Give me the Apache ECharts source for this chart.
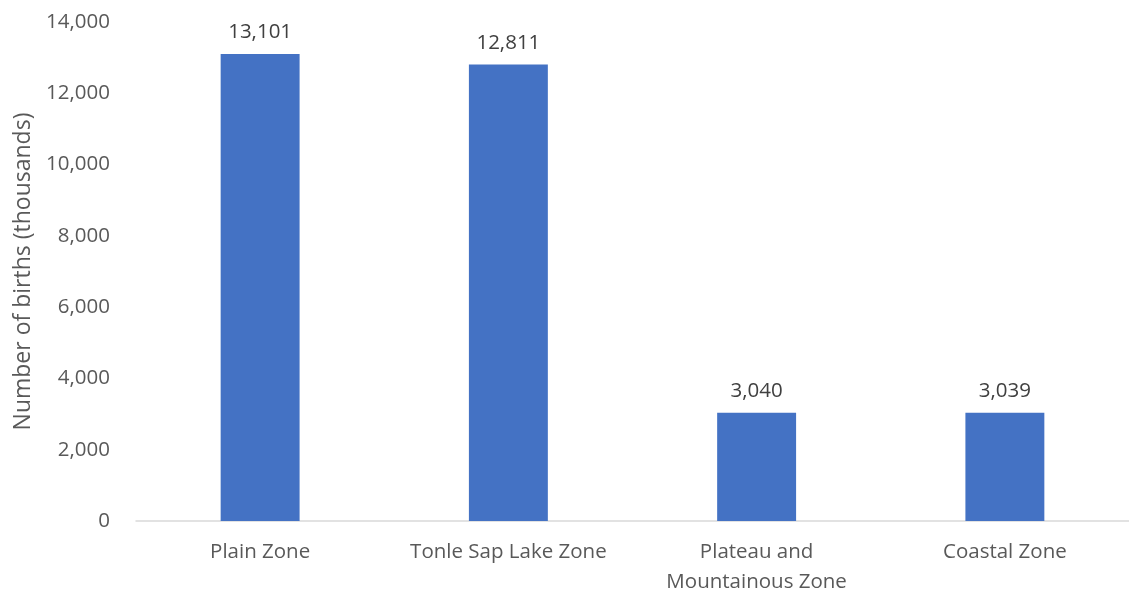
<!DOCTYPE html>
<html>
<head>
<meta charset="utf-8">
<script src="https://cdn.jsdelivr.net/npm/echarts@6/dist/echarts.min.js"></script>
<style>
  html, body { margin: 0; padding: 0; background: #fff; }
  #chart { width: 1129px; height: 592px; }
</style>
</head>
<body>
<div id="chart"></div>
<script>
const zones = ["Plain Zone", "Tonle Sap Lake Zone", "Plateau and\nMountainous Zone", "Coastal Zone"];
const births = [13101, 12811, 3040, 3039];
const yTicks = { min: 0, max: 14000, interval: 2000 };

const fmt = (v) => v.toLocaleString("en-US");
const font = "'Open Sans', Lato, sans-serif";
const grey = "#595959";

const chart = echarts.init(document.getElementById("chart"));

const option = {
  animation: false,
  grid: { left: 136, right: 0, top: 22, bottom: 71, outerBoundsMode: "none" },
  xAxis: {
    type: "category",
    data: zones,
    axisLine: { lineStyle: { color: "#d9d9d9", width: 1.5 } },
    axisTick: { show: false },
    axisLabel: {
      interval: 0,
      color: grey,
      fontFamily: font,
      fontSize: 20.5,
      lineHeight: 30,
      margin: 16,
    },
  },
  yAxis: {
    type: "value",
    min: yTicks.min,
    max: yTicks.max,
    interval: yTicks.interval,
    name: "Number of births (thousands)",
    nameLocation: "middle",
    nameGap: 100,
    nameTextStyle: { color: grey, fontFamily: font, fontSize: 23 },
    axisLine: { show: false },
    axisTick: { show: false },
    splitLine: { show: false },
    axisLabel: {
      color: grey,
      fontFamily: font,
      fontSize: 20.5,
      margin: 26,
      formatter: (v) => fmt(v),
    },
  },
  series: [
    {
      type: "bar",
      data: births,
      barWidth: "31.8%",
      itemStyle: { color: "#4472C4" },
      label: {
        show: true,
        position: "top",
        distance: 11,
        color: "#404040",
        fontFamily: font,
        fontSize: 20.5,
        formatter: (p) => fmt(p.value),
      },
    },
  ],
};

chart.setOption(option);
</script>
</body>
</html>
